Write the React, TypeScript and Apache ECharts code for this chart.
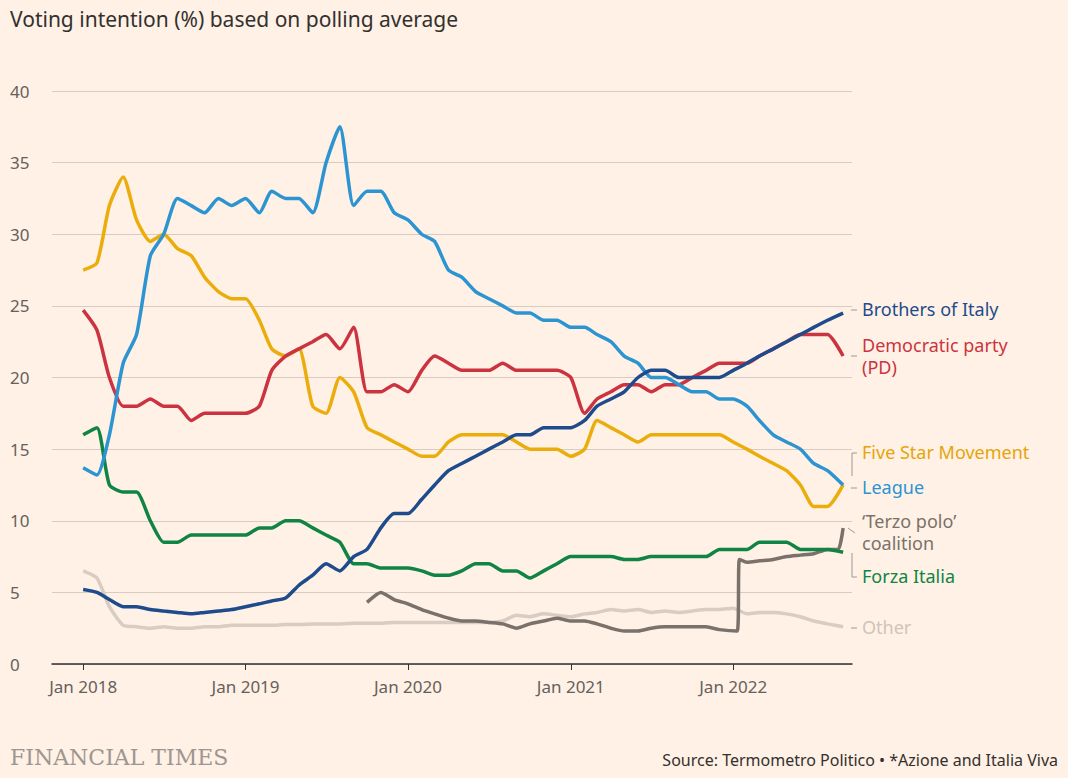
import React, { useEffect, useRef } from 'react';
import * as echarts from 'echarts';

// monthly points, Jan 2018 .. Aug 2022, then early Sep 2022
const months: string[] = [];
for (let y = 2018; y <= 2022; y++) {
  for (let m = 1; m <= 12; m++) {
    if (y === 2022 && m > 8) break;
    months.push(`${y}-${String(m).padStart(2, '0')}-01`);
  }
}
months.push('2022-09-05');

const league = [13.7, 13.2, 16, 21, 23, 28.5, 30, 32.5, 32, 31.5, 32.5, 32, 32.5, 31.5, 33, 32.5, 32.5, 31.5, 35, 37.5, 32, 33, 33, 31.5, 31, 30, 29.5, 27.5, 27, 26, 25.5, 25, 24.5, 24.5, 24, 24, 23.5, 23.5, 23, 22.5, 21.5, 21, 20, 20, 19.5, 19, 19, 18.5, 18.5, 18, 17, 16, 15.5, 15, 14, 13.5, 12.5];
const fiveStar = [27.5, 28, 32, 34, 31, 29.5, 30, 29, 28.5, 27, 26, 25.5, 25.5, 24, 22, 21.5, 22, 18, 17.5, 20, 19, 16.5, 16, 15.5, 15, 14.5, 14.5, 15.5, 16, 16, 16, 16, 15.5, 15, 15, 15, 14.5, 15, 17, 16.5, 16, 15.5, 16, 16, 16, 16, 16, 16, 15.5, 15, 14.5, 14, 13.5, 12.5, 11, 11, 12.5];
const pd = [24.7, 23.3, 20, 18, 18, 18.5, 18, 18, 17, 17.5, 17.5, 17.5, 17.5, 18, 20.5, 21.5, 22, 22.5, 23, 22, 23.5, 19, 19, 19.5, 19, 20.5, 21.5, 21, 20.5, 20.5, 20.5, 21, 20.5, 20.5, 20.5, 20.5, 20, 17.5, 18.5, 19, 19.5, 19.5, 19, 19.5, 19.5, 20, 20.5, 21, 21, 21, 21.5, 22, 22.5, 23, 23, 23, 21.5];
const brothers = [5.2, 5, 4.5, 4, 4, 3.8, 3.7, 3.6, 3.5, 3.6, 3.7, 3.8, 4, 4.2, 4.4, 4.6, 5.5, 6.2, 7, 6.5, 7.5, 8, 9.5, 10.5, 10.5, 11.5, 12.5, 13.5, 14, 14.5, 15, 15.5, 16, 16, 16.5, 16.5, 16.5, 17, 18, 18.5, 19, 20, 20.5, 20.5, 20, 20, 20, 20, 20.5, 21, 21.5, 22, 22.5, 23, 23.5, 24, 24.5];
const forza = [16, 16.5, 12.5, 12, 12, 10, 8.5, 8.5, 9, 9, 9, 9, 9, 9.5, 9.5, 10, 10, 9.5, 9, 8.5, 7, 7, 6.7, 6.7, 6.7, 6.5, 6.2, 6.2, 6.5, 7, 7, 6.5, 6.5, 6, 6.5, 7, 7.5, 7.5, 7.5, 7.5, 7.3, 7.3, 7.5, 7.5, 7.5, 7.5, 7.5, 8, 8, 8, 8.5, 8.5, 8.5, 8, 8, 8, 7.8];
const other = [6.5, 6, 4, 2.7, 2.6, 2.5, 2.6, 2.5, 2.5, 2.6, 2.6, 2.7, 2.7, 2.7, 2.7, 2.75, 2.75, 2.8, 2.8, 2.8, 2.85, 2.85, 2.85, 2.9, 2.9, 2.9, 2.9, 2.9, 2.9, 2.9, 2.9, 3, 3.4, 3.3, 3.5, 3.4, 3.3, 3.5, 3.6, 3.8, 3.7, 3.8, 3.6, 3.7, 3.6, 3.7, 3.8, 3.8, 3.9, 3.5, 3.6, 3.6, 3.5, 3.3, 3, 2.8, 2.6];
const terzoPolo: [string, number][] = [
  ['2019-10-01', 4.3], ['2019-11-01', 5], ['2019-12-01', 4.5], ['2020-01-01', 4.2], ['2020-02-01', 3.8],
  ['2020-03-01', 3.5], ['2020-04-01', 3.2], ['2020-05-01', 3], ['2020-06-01', 3], ['2020-07-01', 2.9],
  ['2020-08-01', 2.8], ['2020-09-01', 2.5], ['2020-10-01', 2.8], ['2020-11-01', 3], ['2020-12-01', 3.2],
  ['2021-01-01', 3], ['2021-02-01', 3], ['2021-03-01', 2.8], ['2021-04-01', 2.5], ['2021-05-01', 2.3],
  ['2021-06-01', 2.3], ['2021-07-01', 2.5], ['2021-08-01', 2.6], ['2021-09-01', 2.6], ['2021-10-01', 2.6],
  ['2021-11-01', 2.6], ['2021-12-01', 2.4], ['2022-01-10', 2.3], ['2022-01-15', 7.3], ['2022-02-01', 7.1],
  ['2022-03-01', 7.2], ['2022-04-01', 7.3], ['2022-05-01', 7.5], ['2022-06-01', 7.6], ['2022-07-01', 7.7],
  ['2022-08-01', 8], ['2022-08-25', 8], ['2022-09-05', 9.5],
];
const yearTicks = ['2018-01-01', '2019-01-01', '2020-01-01', '2021-01-01', '2022-01-01'];

const FONT = '"Noto Sans", sans-serif';
const ts = (d: string) => +new Date(d);
const pair = (vals: number[]) => vals.map((v, i) => [ts(months[i]), v]);

const App: React.FC = () => {
  const chartRef = useRef<HTMLDivElement>(null);

  useEffect(() => {
    if (!chartRef.current) return;
    document.body.style.margin = '0';
    document.body.style.background = '#fff1e5';
    const chart = echarts.init(chartRef.current, null, { renderer: 'svg' });
    const line = (name: string, data: any[], color: string, z = 2) => ({
      name, type: 'line', data, showSymbol: false, smooth: 0.2, z,
      lineStyle: { color, width: 3.5 },
    });
    const label = (text: string, y: number, color: string) => ({
      type: 'text', left: 862, top: y - 10,
      style: { text, fill: color, font: `18px ${FONT}` },
    });
    const dash = (y: number) => ({
      type: 'line', shape: { x1: 851, y1: y, x2: 857, y2: y },
      style: { stroke: '#a09890', lineWidth: 1 },
    });
    const ticks = yearTicks.map(ts);

    chart.setOption({
      animation: false,
      backgroundColor: '#fff1e5',
      grid: { left: 52, right: 216, top: 91, bottom: 114 },
      xAxis: {
        type: 'value',
        min: ts('2017-10-23'),
        max: ts('2022-09-25'),
        axisLine: { lineStyle: { color: '#33302e', width: 1.5 } },
        axisTick: { show: true, customValues: ticks, length: 6, lineStyle: { color: '#33302e' } },
        axisLabel: {
          customValues: ticks, color: '#66605c', fontSize: 17, fontFamily: FONT, margin: 14,
          formatter: (v: number) => 'Jan ' + new Date(v).getFullYear(),
        },
        splitLine: { show: false },
      },
      yAxis: {
        type: 'value', min: 0, max: 40, interval: 5,
        axisLine: { show: false }, axisTick: { show: false },
        axisLabel: { color: '#66605c', fontSize: 17, fontFamily: FONT, align: 'left', margin: 42 },
        splitLine: { lineStyle: { color: '#d8ccc2', width: 1 } },
      },
      series: [
        line('Other', pair(other), '#d8ccc3', 1),
        line('Terzo polo', terzoPolo.map(([d, v]) => [ts(d), v]), '#7a716b'),
        line('Forza Italia', pair(forza), '#0f8444'),
        line('Five Star Movement', pair(fiveStar), '#ebad0c'),
        line('Democratic party (PD)', pair(pd), '#cc3340'),
        line('League', pair(league), '#2d94d2'),
        line('Brothers of Italy', pair(brothers), '#1e4b8c', 3),
      ],
      graphic: [
        { type: 'text', left: 10, top: 8, style: { text: 'Voting intention (%) based on polling average', fill: '#33302e', font: `21px ${FONT}` } },
        label('Brothers of Italy', 310, '#1e4b8c'),
        label('Democratic party', 346, '#cc3340'),
        label('(PD)', 368, '#cc3340'),
        label('Five Star Movement', 453, '#e6a40a'),
        label('League', 488, '#2d94d2'),
        label('\u2018Terzo polo\u2019', 522, '#7a716b'),
        label('coalition', 544, '#7a716b'),
        label('Forza Italia', 577, '#0f8444'),
        label('Other', 628, '#cfc3ba'),
        dash(310), dash(356), dash(628), dash(488),
        { type: 'polyline', shape: { points: [[857, 453], [852, 453], [852, 476]] }, style: { stroke: '#a09890', lineWidth: 1, fill: 'none' } },
        { type: 'polyline', shape: { points: [[852, 553], [852, 577], [857, 577]] }, style: { stroke: '#a09890', lineWidth: 1, fill: 'none' } },
        { type: 'line', shape: { x1: 848, y1: 528, x2: 855, y2: 533 }, style: { stroke: '#a09890', lineWidth: 1 } },
        { type: 'text', left: 10, top: 746, style: { text: 'FINANCIAL TIMES', fill: '#9e9690', font: '22px "DejaVu Serif", serif' } },
        { type: 'text', right: 10, top: 752, style: { text: 'Source: Termometro Politico \u2022 *Azione and Italia Viva', fill: '#33302e', font: `16px ${FONT}` } },
      ],
    });
    return () => chart.dispose();
  }, []);

  return <div ref={chartRef} style={{ width: 1068, height: 778 }} />;
};

export default App;
